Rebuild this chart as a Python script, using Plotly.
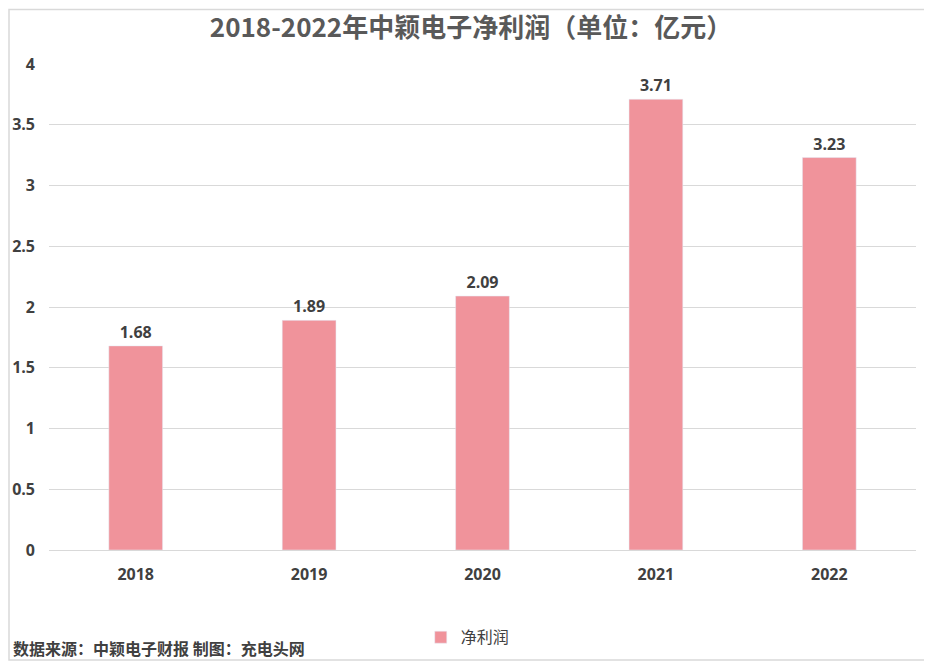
import plotly.graph_objects as go

years = ["2018", "2019", "2020", "2021", "2022"]
profit = [1.68, 1.89, 2.09, 3.71, 3.23]
y_ticks = [0, 0.5, 1, 1.5, 2, 2.5, 3, 3.5, 4]
y_tick_text = ["0", "0.5", "1", "1.5", "2", "2.5", "3", "3.5", "4"]

# page body has an 8px margin, so the figure is a bit smaller than the window
O = 8
W, H = 932 - O, 666 - O
ml, mr, mt, mb = 49 - O, 16, 64 - O, 112
pw, ph = W - ml - mr, H - mt - mb

txt = "#404040"
num_font = dict(size=16, color=txt, family="Open Sans", weight="bold")

fig = go.Figure()
fig.add_trace(go.Bar(
    x=years, y=profit, name="净利润",
    marker_color="#F0939B",
    text=[f"{v:.2f}" for v in profit], textposition="outside",
    textfont=num_font, cliponaxis=False,
))

# outer border of the chart
fig.add_shape(type="rect", xref="paper", yref="paper",
              x0=(1 - ml) / pw, x1=(W - 1 - ml) / pw,
              y0=-(H - 1 - mt - ph) / ph, y1=(mt - 1) / ph + 1,
              line=dict(color="#D9D9D9", width=1.5))

fig.add_annotation(text="数据来源：中颖电子财报 制图：充电头网",
                   xref="paper", yref="paper",
                   x=(11 - O - ml) / pw, y=-(653 - O - mt - ph) / ph,
                   xanchor="left", yanchor="middle", showarrow=False,
                   font=dict(size=16, color=txt, family="Noto Sans CJK SC",
                             weight="bold"))

fig.update_layout(
    width=W, height=H,
    margin=dict(l=ml, r=mr, t=mt, b=mb),
    paper_bgcolor="white", plot_bgcolor="white",
    title=dict(text="<b>2018-2022年中颖电子净利润（单位：亿元）</b>",
               x=(471 - 49) / 867, xref="paper", xanchor="center",
               y=1 - (28 - O) / H, yanchor="middle",
               font=dict(size=26, color="#595959", family="Noto Sans CJK SC")),
    bargap=0.69,
    showlegend=True,
    legend=dict(orientation="h", x=0.483, xanchor="center",
                y=-(642 - O - mt - ph) / ph, yanchor="middle",
                font=dict(size=16, color=txt, family="Noto Sans CJK SC")),
    font=dict(family="Open Sans", color=txt),
)

fig.update_xaxes(type="category", showgrid=False, showline=False, ticks="",
                 automargin=False, ticklabelstandoff=13, tickfont=num_font)
fig.update_yaxes(range=[0, 4], tickvals=y_ticks, ticktext=y_tick_text,
                 showgrid=True, gridcolor="#D9D9D9", gridwidth=1,
                 zeroline=True, zerolinecolor="#D9D9D9", zerolinewidth=1,
                 showline=False, ticks="", automargin=False,
                 ticklabelstandoff=13, tickfont=num_font)

fig.write_html("out.html")
